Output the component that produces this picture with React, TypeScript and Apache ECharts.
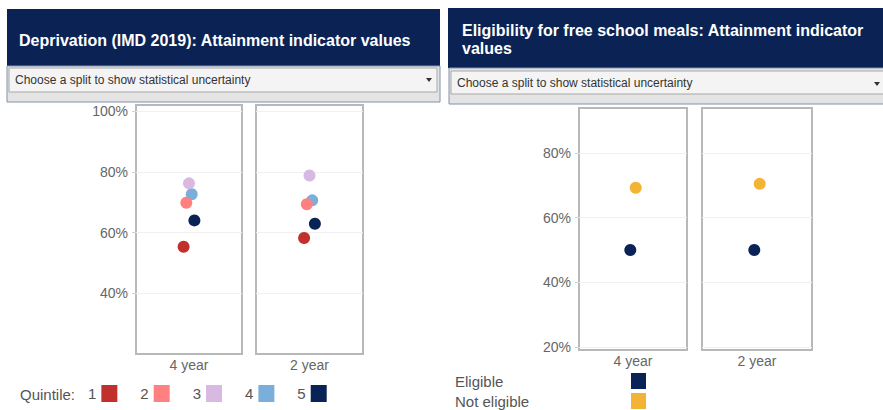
import React, { useEffect, useRef } from "react";
import * as echarts from "echarts";

// ---- data ----
const quintiles = ["1", "2", "3", "4", "5"];
const quintileColors = ["#c0312d", "#ff8080", "#d9b9e1", "#7aafdb", "#0a2356"];
const imdPeriods = ["4 year", "2 year"];
const imd4Year = [55.3, 69.8, 76.2, 72.6, 64.0];
const imd2Year = [58.2, 69.3, 78.8, 70.6, 62.9];
const imdTicks = [40, 60, 80, 100];

const fsmGroups = ["Eligible", "Not eligible"];
const fsmColors = ["#0a2356", "#f3b335"];
const fsmPeriods = ["4 year", "2 year"];
const fsm4Year = [50.0, 69.3];
const fsm2Year = [50.0, 70.5];
const fsmTicks = [20, 40, 60, 80];

const FONT = "'Liberation Sans', Arial, sans-serif";

export default function App() {
  const ref = useRef<HTMLDivElement>(null);
  useEffect(() => {
    document.body.style.margin = "0";
    const chart = echarts.init(ref.current!, null, { renderer: "svg" });

    const grids = [
      { left: 136, top: 105, width: 106, height: 249 },
      { left: 256, top: 105, width: 107, height: 249 },
      { left: 579, top: 108, width: 108, height: 242 },
      { left: 702, top: 108, width: 110, height: 242 },
    ].map((g) => ({ ...g, show: true, borderColor: "#b8b8b8", borderWidth: 2, backgroundColor: "#fff" }));

    const xAxes = [imdPeriods[0], imdPeriods[1], fsmPeriods[0], fsmPeriods[1]].map((p, i) => ({
      type: "category",
      gridIndex: i,
      data: [p],
      axisLine: { show: false },
      axisTick: { show: false },
      axisLabel: { color: "#666", fontSize: 14, fontFamily: FONT, margin: 4 },
    }));

    const yAxes = [0, 1, 2, 3].map((i) => {
      const isImd = i < 2;
      const ticks = isImd ? imdTicks : fsmTicks;
      const showLabels = i === 0 || i === 2;
      return {
        type: "value",
        gridIndex: i,
        min: isImd ? 20 : 19,
        max: isImd ? 102 : 94,
        axisLine: { show: false },
        axisTick: { show: showLabels, length: 4, lineStyle: { color: "#d0d0d0" }, customValues: ticks },
        axisLabel: {
          show: showLabels,
          customValues: ticks,
          formatter: (v: number) => `${v}%`,
          color: "#666",
          fontSize: 14,
          fontFamily: FONT,
          margin: 8,
        },
        splitLine: { show: true, lineStyle: { color: "#f0f0f0", width: 1 } },
      };
    });

    const series: any[] = [];
    const addSeries = (names: string[], colors: string[], vals: number[][], periods: string[], gridStart: number, step: number) => {
      const n = names.length;
      names.forEach((name, k) => {
        vals.forEach((arr, p) => {
          series.push({
            type: "scatter",
            name,
            xAxisIndex: gridStart + p,
            yAxisIndex: gridStart + p,
            data: [[periods[p], arr[k]]],
            symbol: "circle",
            symbolSize: 12,
            symbolOffset: [(k - (n - 1) / 2) * step, 0],
            itemStyle: { color: colors[k], opacity: 1 },
            z: 2 + (n - k),
          });
        });
      });
    };
    addSeries(quintiles, quintileColors, [imd4Year, imd2Year], imdPeriods, 0, 2.7);
    addSeries(fsmGroups, fsmColors, [fsm4Year, fsm2Year], fsmPeriods, 2, 5.4);

    const header = "#0b2354";
    const graphic: any[] = [
      // left header
      { type: "rect", shape: { x: 7, y: 9, width: 433, height: 57 }, style: { fill: header } },
      {
        type: "text", x: 19, y: 40,
        style: { text: "Deprivation (IMD 2019): Attainment indicator values", fill: "#fff", font: `bold 16px ${FONT}`, verticalAlign: "middle" },
      },
      { type: "rect", shape: { x: 7, y: 66, width: 433, height: 36 }, style: { fill: "#e4e4e4", stroke: "#8292ab", lineWidth: 1 } },
      { type: "rect", shape: { x: 9, y: 68, width: 428, height: 24 }, style: { fill: "#f4f4f4", stroke: "#a8a8a8", lineWidth: 1 } },
      {
        type: "text", x: 15, y: 80,
        style: { text: "Choose a split to show statistical uncertainty", fill: "#333", font: `12px ${FONT}`, verticalAlign: "middle" },
      },
      { type: "polygon", shape: { points: [[426, 78], [432, 78], [429, 82]] }, style: { fill: "#333" } },
      // right header
      { type: "rect", shape: { x: 448, y: 8, width: 435, height: 60 }, style: { fill: header } },
      {
        type: "text", x: 462, y: 30,
        style: { text: "Eligibility for free school meals: Attainment indicator", fill: "#fff", font: `bold 16px ${FONT}`, verticalAlign: "middle" },
      },
      {
        type: "text", x: 462, y: 48,
        style: { text: "values", fill: "#fff", font: `bold 16px ${FONT}`, verticalAlign: "middle" },
      },
      { type: "rect", shape: { x: 449, y: 68, width: 440, height: 36 }, style: { fill: "#e4e4e4", stroke: "#8292ab", lineWidth: 1 } },
      { type: "rect", shape: { x: 451, y: 71, width: 440, height: 23 }, style: { fill: "#f4f4f4", stroke: "#a8a8a8", lineWidth: 1 } },
      {
        type: "text", x: 457, y: 83,
        style: { text: "Choose a split to show statistical uncertainty", fill: "#333", font: `12px ${FONT}`, verticalAlign: "middle" },
      },
      { type: "polygon", shape: { points: [[874, 82], [880, 82], [877, 86]] }, style: { fill: "#333" } },
      // legend label
      {
        type: "text", x: 20, y: 394,
        style: { text: "Quintile:", fill: "#555", font: `15px ${FONT}`, verticalAlign: "middle" },
      },
    ];
    // right legend (text on the left, swatch on the right)
    fsmGroups.forEach((g, k) => {
      graphic.push({
        type: "text", x: 455, y: 381 + k * 20,
        style: { text: g, fill: "#555", font: `15px ${FONT}`, verticalAlign: "middle" },
      });
      graphic.push({
        type: "rect", shape: { x: 631, y: 373 + k * 20, width: 15, height: 16 },
        style: { fill: fsmColors[k] },
      });
    });

    chart.setOption({
      animation: false,
      backgroundColor: "#fff",
      textStyle: { fontFamily: FONT },
      grid: grids,
      xAxis: xAxes,
      yAxis: yAxes,
      series,
      graphic,
      legend: [
        {
          data: quintiles,
          left: 88,
          top: 385,
          padding: 0,
          orient: "horizontal",
          align: "right",
          icon: "rect",
          itemWidth: 16,
          itemHeight: 17,
          itemGap: 23,
          selectedMode: false,
          textStyle: { color: "#555", fontSize: 15, fontFamily: FONT },
        },
      ],
    });
    return () => chart.dispose();
  }, []);
  return <div ref={ref} style={{ position: "absolute", left: 0, top: 0, width: 883, height: 410 }} />;
}
